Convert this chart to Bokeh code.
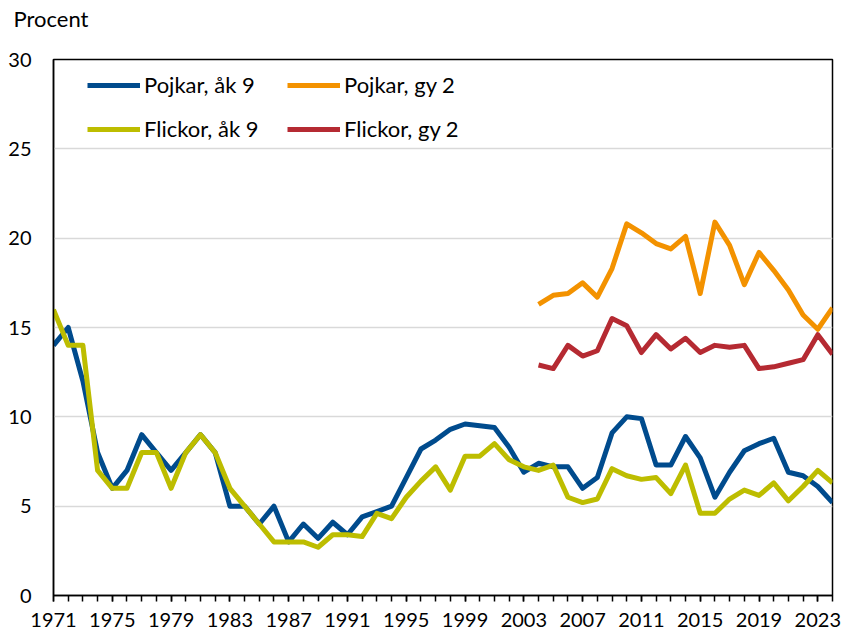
from bokeh.plotting import figure
from bokeh.models import Range1d, FixedTicker, Legend, LegendItem, Title
from bokeh.embed import file_html
from bokeh.resources import INLINE

years = list(range(1971, 2025))
pojkar_ak9 = [14, 15, 12, 8, 6, 7, 9, 8, 7, 8, 9, 8, 5, 5, 4, 5, 3, 4, 3.2, 4.1,
              3.4, 4.4, 4.7, 5.0, 6.6, 8.2, 8.7, 9.3, 9.6, 9.5, 9.4, 8.3, 6.9, 7.4,
              7.2, 7.2, 6.0, 6.6, 9.1, 10.0, 9.9, 7.3, 7.3, 8.9, 7.7, 5.5, 6.9, 8.1,
              8.5, 8.8, 6.9, 6.7, 6.1, 5.2]
flickor_ak9 = [16, 14, 14, 7, 6, 6, 8, 8, 6, 8, 9, 8, 6, 5, 4, 3, 3, 3, 2.7, 3.4,
               3.4, 3.3, 4.6, 4.3, 5.5, 6.4, 7.2, 5.9, 7.8, 7.8, 8.5, 7.6, 7.2, 7.0,
               7.3, 5.5, 5.2, 5.4, 7.1, 6.7, 6.5, 6.6, 5.7, 7.3, 4.6, 4.6, 5.4, 5.9,
               5.6, 6.3, 5.3, 6.1, 7.0, 6.3]
years_gy = list(range(2004, 2025))
pojkar_gy2 = [16.3, 16.8, 16.9, 17.5, 16.7, 18.3, 20.8, 20.3, 19.7, 19.4, 20.1,
              16.9, 20.9, 19.6, 17.4, 19.2, 18.2, 17.1, 15.7, 14.9, 16.1]
flickor_gy2 = [12.9, 12.7, 14.0, 13.4, 13.7, 15.5, 15.1, 13.6, 14.6, 13.8, 14.4,
               13.6, 14.0, 13.9, 14.0, 12.7, 12.8, 13.0, 13.2, 14.6, 13.5]
x_tick_years = list(range(1971, 2025, 4))
y_ticks = [0, 5, 10, 15, 20, 25, 30]

labels = ["Pojkar, åk 9", "Flickor, åk 9", "Pojkar, gy 2", "Flickor, gy 2"]
colors = ["#004B8D", "#BDBD00", "#F39200", "#B52A32"]
unit_label = "Procent"

FONT = "Lato"

p = figure(width=841, height=635, output_backend="svg", toolbar_location=None,
           x_range=Range1d(1971, 2024), y_range=Range1d(0, 30),
           min_border_left=53, min_border_right=9, min_border_top=59,
           min_border_bottom=40)

# spacer panel between the frame and the unit label
p.add_layout(Title(text=" ", text_font_size="2px", standoff=24), "above")
p.add_layout(Title(text=unit_label, align="left", vertical_align="bottom",
                   offset=-40, standoff=0, text_font=FONT,
                   text_font_size="22px", text_font_style="normal",
                   text_color="black"), "above")

lw = 5
r_pa = p.line(years, pojkar_ak9, line_color=colors[0], line_width=lw, line_join="round")
r_fa = p.line(years, flickor_ak9, line_color=colors[1], line_width=lw, line_join="round")
r_pg = p.line(years_gy, pojkar_gy2, line_color=colors[2], line_width=lw, line_join="round")
r_fg = p.line(years_gy, flickor_gy2, line_color=colors[3], line_width=lw, line_join="round")

p.outline_line_color = "black"
p.outline_line_width = 1.5
p.xgrid.visible = False
p.ygrid.grid_line_color = "#d9d9d9"
p.ygrid.grid_line_width = 1.5

xa = p.xaxis[0]
xa.ticker = FixedTicker(ticks=x_tick_years, minor_ticks=years)
xa.major_tick_out = 6
xa.major_tick_in = 0
xa.minor_tick_out = 6
xa.minor_tick_in = 0
xa.major_tick_line_color = "black"
xa.minor_tick_line_color = "black"
xa.major_tick_line_width = 1.5
xa.minor_tick_line_width = 1.5
xa.axis_line_color = "black"
xa.axis_line_width = 1.5
xa.major_label_standoff = 11
xa.major_label_text_font = FONT
xa.major_label_text_font_size = "20px"
xa.major_label_text_color = "black"

ya = p.yaxis[0]
ya.ticker = FixedTicker(ticks=y_ticks)
ya.major_tick_out = 0
ya.major_tick_in = 0
ya.minor_tick_out = 0
ya.minor_tick_in = 0
ya.axis_line_color = "black"
ya.axis_line_width = 1.5
ya.major_label_standoff = 22
ya.major_label_text_font = FONT
ya.major_label_text_font_size = "20px"
ya.major_label_text_color = "black"

def make_legend(items, loc):
    leg = Legend(items=items, location=loc, orientation="vertical",
                 background_fill_alpha=0, border_line_alpha=0,
                 padding=0, margin=0, spacing=17,
                 glyph_width=53, glyph_height=24, label_height=24,
                 label_standoff=4, label_text_font=FONT,
                 label_text_font_size="22px", label_text_color="black")
    return leg

leg1 = make_legend([LegendItem(label=labels[0], renderers=[r_pa]),
                    LegendItem(label=labels[1], renderers=[r_fa])], (34, 453))
leg2 = make_legend([LegendItem(label=labels[2], renderers=[r_pg]),
                    LegendItem(label=labels[3], renderers=[r_fg])], (234, 453))
p.add_layout(leg1)
p.add_layout(leg2)

open("out.html", "w").write(file_html(p, INLINE))
